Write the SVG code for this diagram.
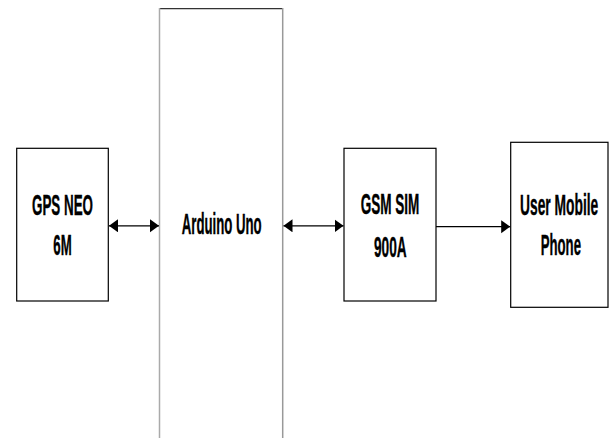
<svg xmlns="http://www.w3.org/2000/svg" width="609" height="438" viewBox="0 0 609 438">
<style>
.box{fill:#fff;stroke:#000;stroke-width:1.2}
.lbl{font-family:"Liberation Sans",Arial,sans-serif;font-weight:bold;font-size:30px;fill:#000;stroke:#000;stroke-width:0.4}
.conn{stroke:#000;stroke-width:1.3;fill:none}
</style>
<defs>
<marker id="ah" markerUnits="userSpaceOnUse" markerWidth="10" markerHeight="14" refX="9" refY="6.5" orient="auto-start-reverse" viewBox="0 0 10 14">
<path d="M0,0 L9,6.5 L0,13 z" fill="#000"/>
</marker>
</defs>
<rect width="609" height="438" fill="#fff"/>
<g id="gps">
<rect class="box" x="16.7" y="148.3" width="91.6" height="152.7"/>
<text class="lbl" x="32" y="214.8" textLength="61" lengthAdjust="spacingAndGlyphs">GPS NEO</text>
<text class="lbl" x="53.3" y="255" textLength="18.4" lengthAdjust="spacingAndGlyphs">6M</text>
</g>
<g id="arduino">
<line x1="159.5" y1="8.7" x2="282.7" y2="8.7" stroke="#333" stroke-width="1.3"/>
<line x1="159.5" y1="8" x2="159.5" y2="438" stroke="#aaa" stroke-width="1.5"/>
<line x1="282.7" y1="8" x2="282.7" y2="438" stroke="#999" stroke-width="1.5"/>
<text class="lbl" x="181.7" y="234.3" textLength="80" lengthAdjust="spacingAndGlyphs">Arduino Uno</text>
</g>
<g id="gsm">
<rect class="box" x="344" y="148.3" width="92" height="152.7"/>
<text class="lbl" x="360.7" y="213.5" textLength="58.6" lengthAdjust="spacingAndGlyphs">GSM SIM</text>
<text class="lbl" x="374" y="256.5" textLength="32.7" lengthAdjust="spacingAndGlyphs">900A</text>
</g>
<g id="phone">
<rect class="box" x="510.7" y="142.3" width="97.3" height="165"/>
<text class="lbl" x="520" y="215" textLength="78.3" lengthAdjust="spacingAndGlyphs">User Mobile</text>
<text class="lbl" x="540.7" y="255" textLength="40.3" lengthAdjust="spacingAndGlyphs">Phone</text>
</g>
<g id="connectors">
<line class="conn" x1="109" y1="225.8" x2="159" y2="225.8" marker-start="url(#ah)" marker-end="url(#ah)"/>
<line class="conn" x1="283.5" y1="225.8" x2="343.5" y2="225.8" marker-start="url(#ah)" marker-end="url(#ah)"/>
<line class="conn" x1="436" y1="226.7" x2="510.2" y2="226.7" marker-end="url(#ah)"/>
</g>
</svg>
